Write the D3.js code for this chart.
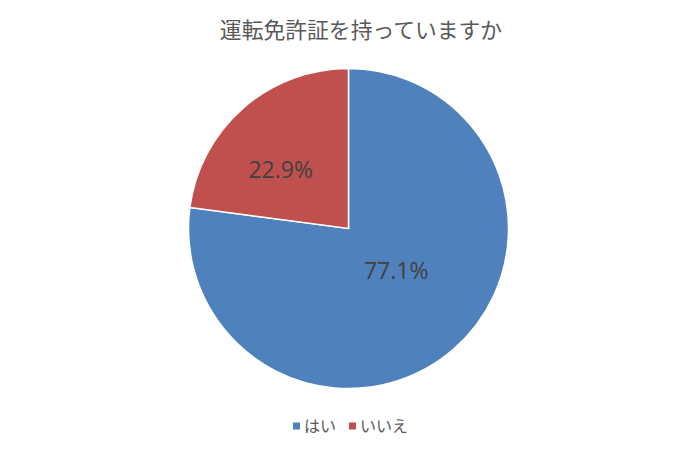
<!DOCTYPE html>
<html>
<head>
<meta charset="utf-8">
<script src="https://cdn.jsdelivr.net/npm/d3@7"></script>
<style>
  body { margin: 0; background: #fff; }
  svg { display: block; }
</style>
</head>
<body>
<svg id="chart" width="700" height="454"></svg>
<script>
// Data
const title = "運転免許証を持っていますか";
const categories = ["はい", "いいえ"];
const values = [77.1, 22.9];
const colors = ["#4F81BD", "#C0504D"];

const svg = d3.select("#chart");
const cx = 348.5, cy = 228.5, radius = 160;

// Title
svg.append("text")
    .attr("x", 361)
    .attr("y", 38)
    .attr("text-anchor", "middle")
    .attr("font-family", "'Noto Sans CJK JP', sans-serif")
    .attr("font-size", 21.8)
    .attr("fill", "#595959")
    .text(title);

// Pie
const pie = d3.pie().sort(null).value(d => d);
const arc = d3.arc().innerRadius(0).outerRadius(radius);
const slices = pie(values);

const g = svg.append("g").attr("transform", `translate(${cx},${cy})`);

g.selectAll("path")
    .data(slices)
    .enter()
    .append("path")
    .attr("d", arc)
    .attr("fill", (d, i) => colors[i])
    .attr("stroke", "#fff")
    .attr("stroke-width", 1.5);

// Labels sit a bit off the centroid, like Excel's best fit
const labelRadius = [0.4, 0.56];
g.selectAll("text.label")
    .data(slices)
    .enter()
    .append("text")
    .attr("class", "label")
    .attr("transform", (d, i) => {
        const r = radius * labelRadius[i];
        const a = (d.startAngle + d.endAngle) / 2 - (i === 0 ? 0.12 : 0.14);
        return `translate(${r * Math.sin(a)},${-r * Math.cos(a) + 8})`;
    })
    .attr("text-anchor", "middle")
    .attr("font-family", "'Open Sans', sans-serif")
    .attr("font-size", 23)
    .attr("fill", "#404040")
    .text(d => d.value.toFixed(1) + "%");

// Legend
const legend = svg.append("g").attr("transform", "translate(0,426)");
const legendX = [293, 349];
categories.forEach((c, i) => {
    legend.append("rect")
        .attr("x", legendX[i])
        .attr("y", -3.5)
        .attr("width", 7)
        .attr("height", 7)
        .attr("fill", colors[i]);
    legend.append("text")
        .attr("x", legendX[i] + 11)
        .attr("y", 6)
        .attr("font-family", "'Noto Sans CJK JP', sans-serif")
        .attr("font-size", 16)
        .attr("fill", "#595959")
        .text(c);
});
</script>
</body>
</html>
